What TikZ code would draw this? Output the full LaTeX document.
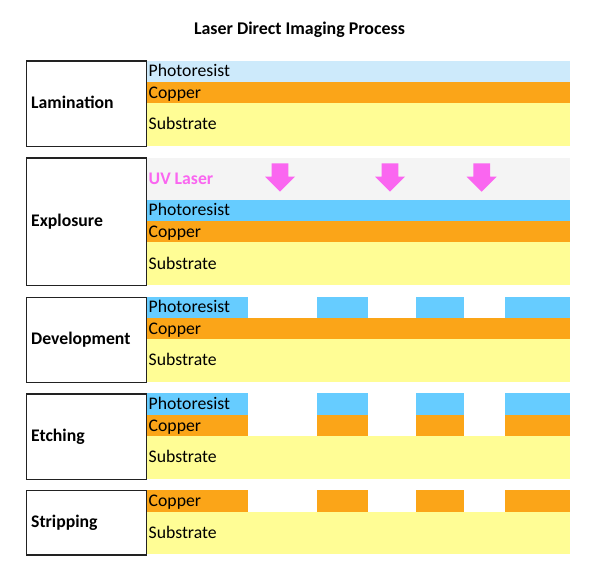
\documentclass[tikz,border=0pt]{standalone}
\usepackage{fontspec}
\setmainfont{Carlito}
\definecolor{prlight}{HTML}{CDEAFB}
\definecolor{prblue}{HTML}{66CCFF}
\definecolor{copper}{HTML}{FBA518}
\definecolor{substr}{HTML}{FFFD95}
\definecolor{uvgrey}{HTML}{F4F4F4}
\definecolor{uvpink}{HTML}{FA66F0}
\definecolor{boxline}{HTML}{222222}
\tikzset{
  stagebox/.style={draw=boxline, line width=1.4pt, fill=white, rectangle, anchor=north west, inner sep=0pt, minimum width=119.7pt},
  stagelabel/.style={font=\bfseries\fontsize{17.7}{19}\selectfont, anchor=base west, inner sep=0pt, yshift=-5.4pt},
  layerlabel/.style={font=\fontsize{17.7}{19}\selectfont, anchor=base west, inner sep=0pt, yshift=-5.4pt},
  uvarrow/.style={fill=uvpink, draw=none},
}
\newcommand{\uvarr}[1]{\fill[uvarrow] (#1-8.3,163.3) -- (#1+8.3,163.3) -- (#1+8.3,176.7) -- (#1+15,176.7) -- (#1,191.7) -- (#1-15,176.7) -- (#1-8.3,176.7) -- cycle;}
\newcommand{\segs}[3]{% color, top, bottom
  \fill[#1] (146,#2) rectangle (247.7,#3);
  \fill[#1] (317.3,#2) rectangle (368.3,#3);
  \fill[#1] (416,#2) rectangle (464.3,#3);
  \fill[#1] (505,#2) rectangle (570,#3);}
\begin{document}
\begin{tikzpicture}[x=1pt,y=-1pt]
\useasboundingbox (0,0) rectangle (600,574);
\fill[white] (0,0) rectangle (600,574);
% title
\node[font=\bfseries\fontsize{17.9}{19}\selectfont, inner sep=0pt, anchor=base] (title) at (299.5,34.5) {Laser Direct Imaging Process};

% ---- Lamination
\fill[prlight] (146,60.5) rectangle (570,82.3);
\fill[copper] (146,82.3) rectangle (570,103.3);
\fill[substr] (146,103.3) rectangle (570,145.7);
\node[layerlabel] (l1p) at (148.5,71.4) {Photoresist};
\node[layerlabel] (l1c) at (148.5,93.3) {Copper};
\node[layerlabel] (l1s) at (148.5,124.5) {Substrate};
\node[stagebox, minimum height=85.4pt] (lam) at (26,60.3) {};
\node[stagelabel] (laml) at (31,103) {Lamination};

% ---- Exposure
\fill[uvgrey] (146,157.7) rectangle (570,200);
\fill[prblue] (146,200) rectangle (570,221);
\fill[copper] (146,221) rectangle (570,242.3);
\fill[substr] (146,242.3) rectangle (570,285);
\node[layerlabel, font=\bfseries\fontsize{17.7}{19}\selectfont, text=uvpink] (l2u) at (148.5,179) {UV Laser};
\uvarr{280}
\uvarr{390}
\uvarr{481.7}
\node[layerlabel] (l2p) at (148.5,210.5) {Photoresist};
\node[layerlabel] (l2c) at (148.5,232) {Copper};
\node[layerlabel] (l2s) at (148.5,263.6) {Substrate};
\node[stagebox, minimum height=127.7pt] (exp) at (26,157.3) {};
\node[stagelabel] (expl) at (31,221) {Explosure};

% ---- Development
\segs{prblue}{296.7}{318.3}
\fill[copper] (146,318.3) rectangle (570,339.3);
\fill[substr] (146,339.3) rectangle (570,381.7);
\node[layerlabel] (l3p) at (148.5,307.5) {Photoresist};
\node[layerlabel] (l3c) at (148.5,329.2) {Copper};
\node[layerlabel] (l3s) at (148.5,360.5) {Substrate};
\node[stagebox, minimum height=85pt] (dev) at (26,296.7) {};
\node[stagelabel] (devl) at (31,339.2) {Development};

% ---- Etching
\segs{prblue}{393.3}{415}
\segs{copper}{415}{436}
\fill[substr] (146,436) rectangle (570,479);
\node[layerlabel] (l4p) at (148.5,404.2) {Photoresist};
\node[layerlabel] (l4c) at (148.5,425.9) {Copper};
\node[layerlabel] (l4s) at (148.5,457.5) {Substrate};
\node[stagebox, minimum height=85.7pt] (etc) at (26,393.3) {};
\node[stagelabel] (etcl) at (31,436.2) {Etching};

% ---- Stripping
\segs{copper}{490}{511.7}
\fill[substr] (146,511.7) rectangle (570,554.3);
\node[layerlabel] (l5c) at (148.5,501.3) {Copper};
\node[layerlabel] (l5s) at (148.5,533) {Substrate};
\node[stagebox, minimum height=64.3pt] (str) at (26,490) {};
\node[stagelabel] (strl) at (31,522.2) {Stripping};
\end{tikzpicture}
\end{document}
